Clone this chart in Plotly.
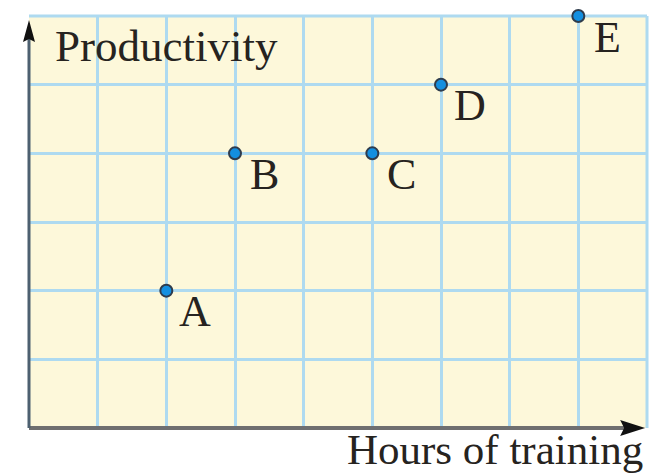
import plotly.graph_objects as go

# Data
point_labels = ["A", "B", "C", "D", "E"]
hours = [2, 3, 5, 6, 8]
productivity = [2, 4, 4, 5, 6]

x_max = 9
y_max = 6

bg = "#FDF8DA"
grid = "#AEDAF0"
serif = "Liberation Serif, Times New Roman, serif"
text_col = "#262320"

fig = go.Figure()
fig.add_trace(go.Scatter(
    x=hours, y=productivity, mode="markers",
    marker=dict(size=12, color="#138FE0", line=dict(width=2, color="#2F3C4C")),
    cliponaxis=False, hoverinfo="skip", showlegend=False,
))

annotations = []
for lab, xv, yv in zip(point_labels, hours, productivity):
    annotations.append(dict(x=xv, y=yv, text=lab, showarrow=False,
                            xshift=29, yshift=-21,
                            font=dict(family=serif, size=44, color=text_col)))

annotations.append(dict(x=2.0, y=5.56, text="Productivity", showarrow=False,
                        xanchor="center", yanchor="middle",
                        font=dict(family=serif, size=45, color=text_col)))
annotations.append(dict(xref="paper", yref="paper", x=0.754, y=-0.052,
                        xanchor="center", yanchor="middle",
                        text="Hours of training", showarrow=False,
                        font=dict(family=serif, size=43, color=text_col)))

shapes = [
    # light blue border top/right
    dict(type="line", xref="paper", yref="paper", x0=0, x1=1, y0=1, y1=1,
         line=dict(color=grid, width=3), layer="below"),
    dict(type="line", xref="paper", yref="paper", x0=1, x1=1, y0=0, y1=1,
         line=dict(color=grid, width=3), layer="below"),
    # axes
    dict(type="line", xref="paper", yref="paper", x0=0, x1=0.975, y0=0, y1=0,
         line=dict(color="#6F6F6F", width=4), layer="above"),
    dict(type="line", xref="paper", yref="paper", x0=0, x1=0, y0=0, y1=0.965,
         line=dict(color="#4D6070", width=3), layer="above"),
    # arrowheads (pixel-sized, anchored at axis ends)
    dict(type="path", xref="paper", yref="paper", xsizemode="pixel", ysizemode="pixel",
         xanchor=0.997, yanchor=0, path="M 0 0 L -25 8 L -21 0 L -25 -8 Z",
         fillcolor="#111111", line=dict(width=0), layer="above"),
    dict(type="path", xref="paper", yref="paper", xsizemode="pixel", ysizemode="pixel",
         xanchor=0, yanchor=0.99, path="M 0 0 L 6 -22 L 0 -19 L -6 -22 Z",
         fillcolor="#111111", line=dict(width=0), layer="above"),
]

fig.update_layout(
    width=655, height=468,
    margin=dict(l=21, r=16, t=8, b=48),
    paper_bgcolor="white", plot_bgcolor=bg,
    xaxis=dict(range=[0, x_max], dtick=1, tick0=0, showgrid=True, gridcolor=grid,
               gridwidth=3, showticklabels=False, zeroline=False, showline=False,
               ticks="", fixedrange=True),
    yaxis=dict(range=[0, y_max], dtick=1, tick0=0, showgrid=True, gridcolor=grid,
               gridwidth=3, showticklabels=False, zeroline=False, showline=False,
               ticks="", fixedrange=True),
    annotations=annotations, shapes=shapes, showlegend=False,
)

fig.write_html("out.html")
